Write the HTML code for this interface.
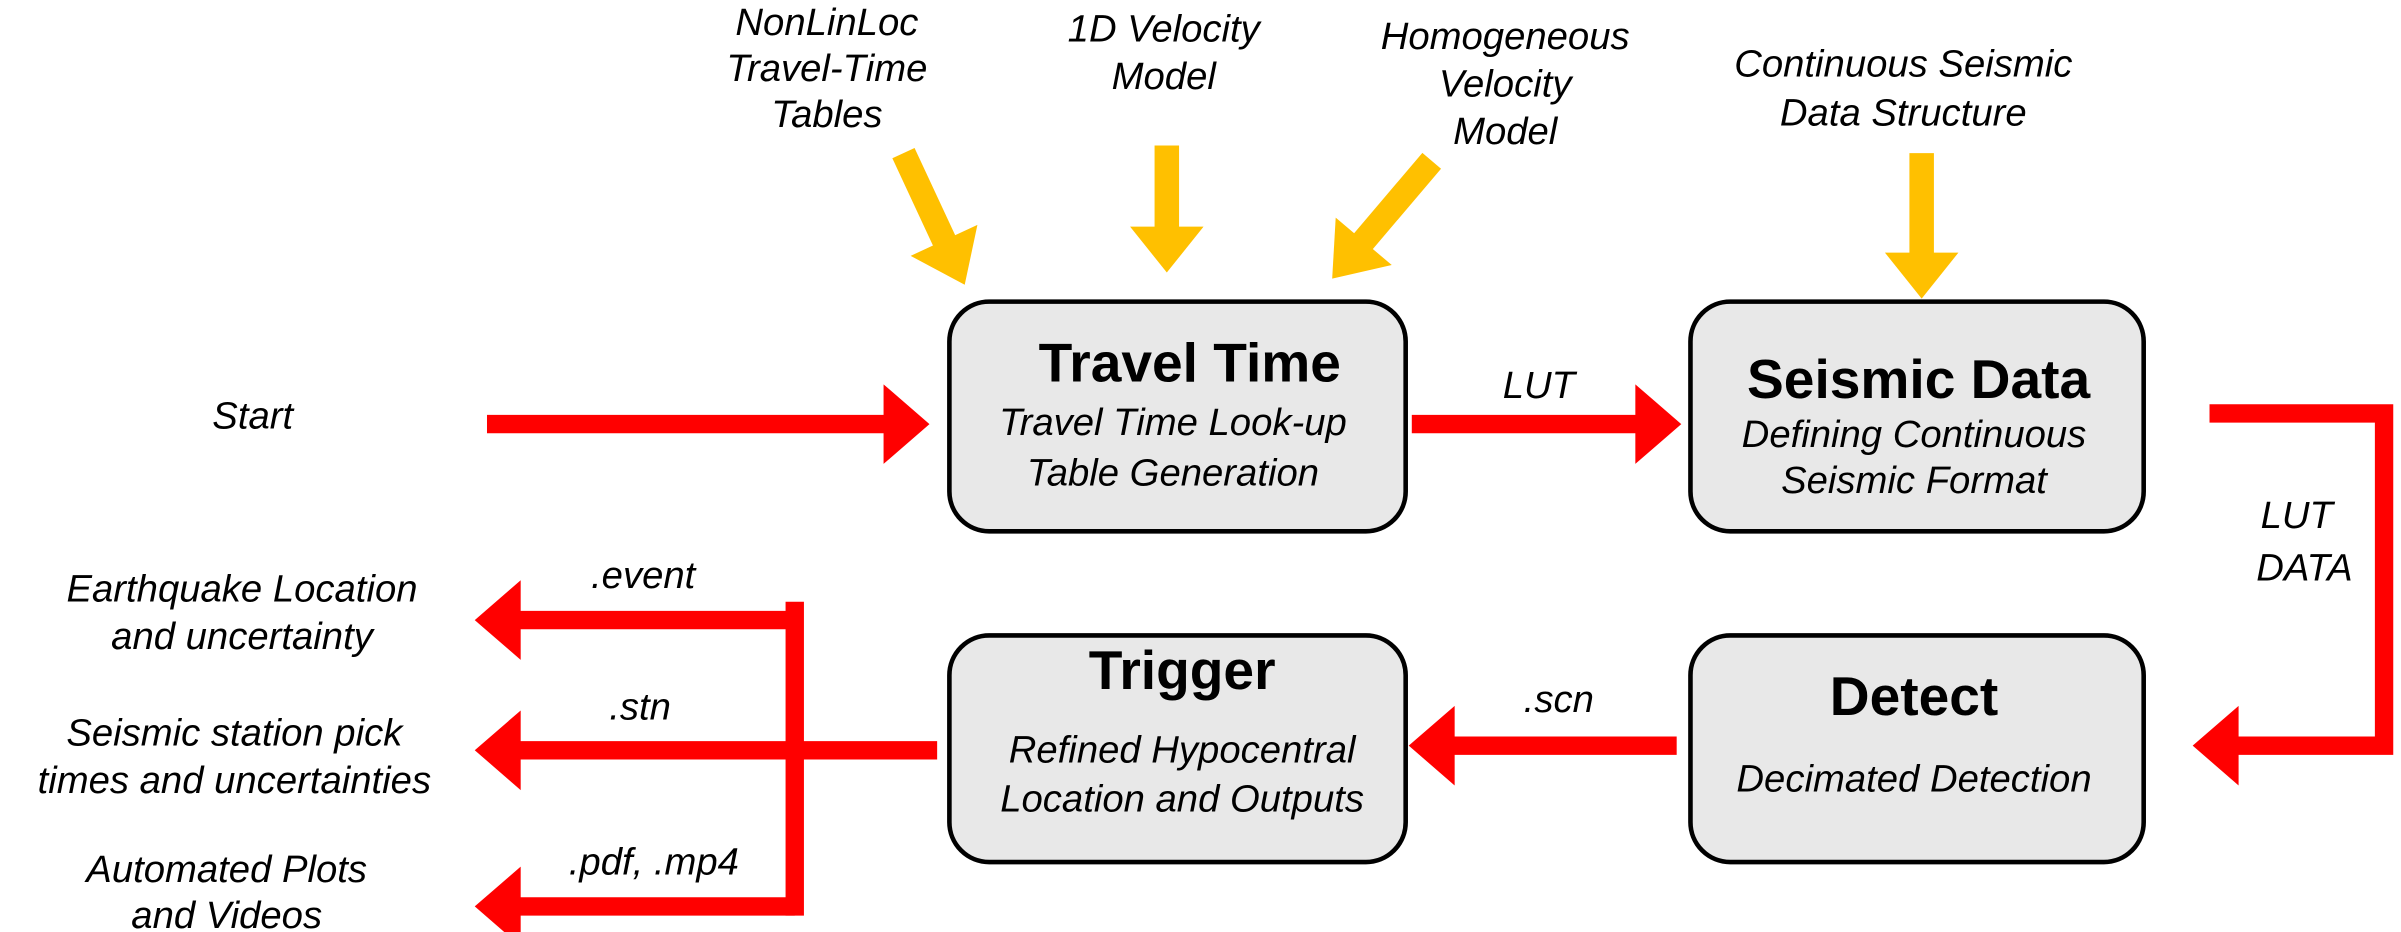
<!DOCTYPE html>
<html><head><meta charset="utf-8"><style>
html,body{margin:0;padding:0;background:#fff;}
svg{display:block;}
text{font-family:"Liberation Sans",sans-serif;}
.l{font-style:italic;font-size:25px;fill:#000;}
.t{font-weight:bold;font-size:36px;fill:#000;}
</style></head><body>
<svg width="2401" height="932" viewBox="0 0 1568 608.7" xmlns="http://www.w3.org/2000/svg">
<!-- boxes -->
<g fill="#e8e8e8" stroke="#000" stroke-width="3">
<rect x="620" y="197" width="298" height="150" rx="26"/>
<rect x="1104" y="197" width="296" height="150" rx="26"/>
<rect x="620" y="415" width="298" height="148" rx="26"/>
<rect x="1104" y="415" width="296" height="148" rx="26"/>
</g>
<text class="t" x="777" y="249" text-anchor="middle">Travel Time</text>
<text class="l" x="766" y="284" text-anchor="middle">Travel Time Look-up</text>
<text class="l" x="766" y="317" text-anchor="middle">Table Generation</text>
<text class="t" x="1253" y="260" text-anchor="middle">Seismic Data</text>
<text class="l" x="1250" y="292" text-anchor="middle">Defining Continuous</text>
<text class="l" x="1250" y="322" text-anchor="middle">Seismic Format</text>
<text class="t" x="772" y="450" text-anchor="middle">Trigger</text>
<text class="l" x="772" y="498" text-anchor="middle">Refined Hypocentral</text>
<text class="l" x="772" y="530" text-anchor="middle">Location and Outputs</text>
<text class="t" x="1250" y="467" text-anchor="middle">Detect</text>
<text class="l" x="1250" y="517" text-anchor="middle">Decimated Detection</text>
<!-- red arrows -->
<g stroke="#ff0000" stroke-width="12" fill="none">
<line x1="318" y1="277" x2="578" y2="277"/>
<line x1="922" y1="277" x2="1069" y2="277"/>
<polyline points="1443,270 1557,270 1557,487 1461,487"/>
<line x1="1095" y1="487" x2="949" y2="487"/>
<line x1="612" y1="490" x2="519" y2="490"/>
<line x1="519" y1="393" x2="519" y2="598"/>
<line x1="519" y1="405" x2="339" y2="405"/>
<line x1="519" y1="490" x2="339" y2="490"/>
<line x1="519" y1="592" x2="339" y2="592"/>
</g>
<g fill="#ff0000">
<polygon points="577,251 607,277 577,303"/>
<polygon points="1068,251 1098,277 1068,303"/>
<polygon points="1462,461 1432,487 1462,513"/>
<polygon points="950,461 920,487 950,513"/>
<polygon points="340,379 310,405 340,431"/>
<polygon points="340,464 310,490 340,516"/>
<polygon points="340,566 310,592 340,618"/>
</g>
<!-- yellow arrows -->
<g stroke="#ffc000" stroke-width="16" fill="none">
<line x1="590" y1="100" x2="617" y2="158"/>
<line x1="762" y1="95" x2="762" y2="149"/>
<line x1="935" y1="105" x2="890" y2="158"/>
<line x1="1255" y1="100" x2="1255" y2="166"/>
</g>
<g fill="#ffc000">
<polygon points="594.7,167.1 630,186 638.3,146.9"/>
<polygon points="738,148 762,178 786,148"/>
<polygon points="908.9,173.1 870,182 872.3,142.1"/>
<polygon points="1231,165 1255,195 1279,165"/>
</g>
<!-- labels -->
<text class="l" x="165" y="280" text-anchor="middle">Start</text>
<text class="l" x="1005" y="260" text-anchor="middle">LUT</text>
<text class="l" x="1500" y="345" text-anchor="middle">LUT</text>
<text class="l" x="1505" y="379" text-anchor="middle">DATA</text>
<text class="l" x="1018" y="465" text-anchor="middle">.scn</text>
<text class="l" x="420" y="384" text-anchor="middle">.event</text>
<text class="l" x="418" y="470" text-anchor="middle">.stn</text>
<text class="l" x="427" y="571" text-anchor="middle">.pdf, .mp4</text>
<text class="l" x="158" y="393" text-anchor="middle">Earthquake Location</text>
<text class="l" x="158" y="424" text-anchor="middle">and uncertainty</text>
<text class="l" x="153" y="487" text-anchor="middle">Seismic station pick</text>
<text class="l" x="153" y="518" text-anchor="middle">times and uncertainties</text>
<text class="l" x="148" y="576" text-anchor="middle">Automated Plots</text>
<text class="l" x="148" y="606" text-anchor="middle">and Videos</text>
<text class="l" x="540" y="23" text-anchor="middle">NonLinLoc</text>
<text class="l" x="540" y="53" text-anchor="middle">Travel-Time</text>
<text class="l" x="540" y="83" text-anchor="middle">Tables</text>
<text class="l" x="760" y="27" text-anchor="middle">1D Velocity</text>
<text class="l" x="760" y="58" text-anchor="middle">Model</text>
<text class="l" x="983" y="32" text-anchor="middle">Homogeneous</text>
<text class="l" x="983" y="63" text-anchor="middle">Velocity</text>
<text class="l" x="983" y="94" text-anchor="middle">Model</text>
<text class="l" x="1243" y="50" text-anchor="middle">Continuous Seismic</text>
<text class="l" x="1243" y="82" text-anchor="middle">Data Structure</text>
</svg>
</body></html>
